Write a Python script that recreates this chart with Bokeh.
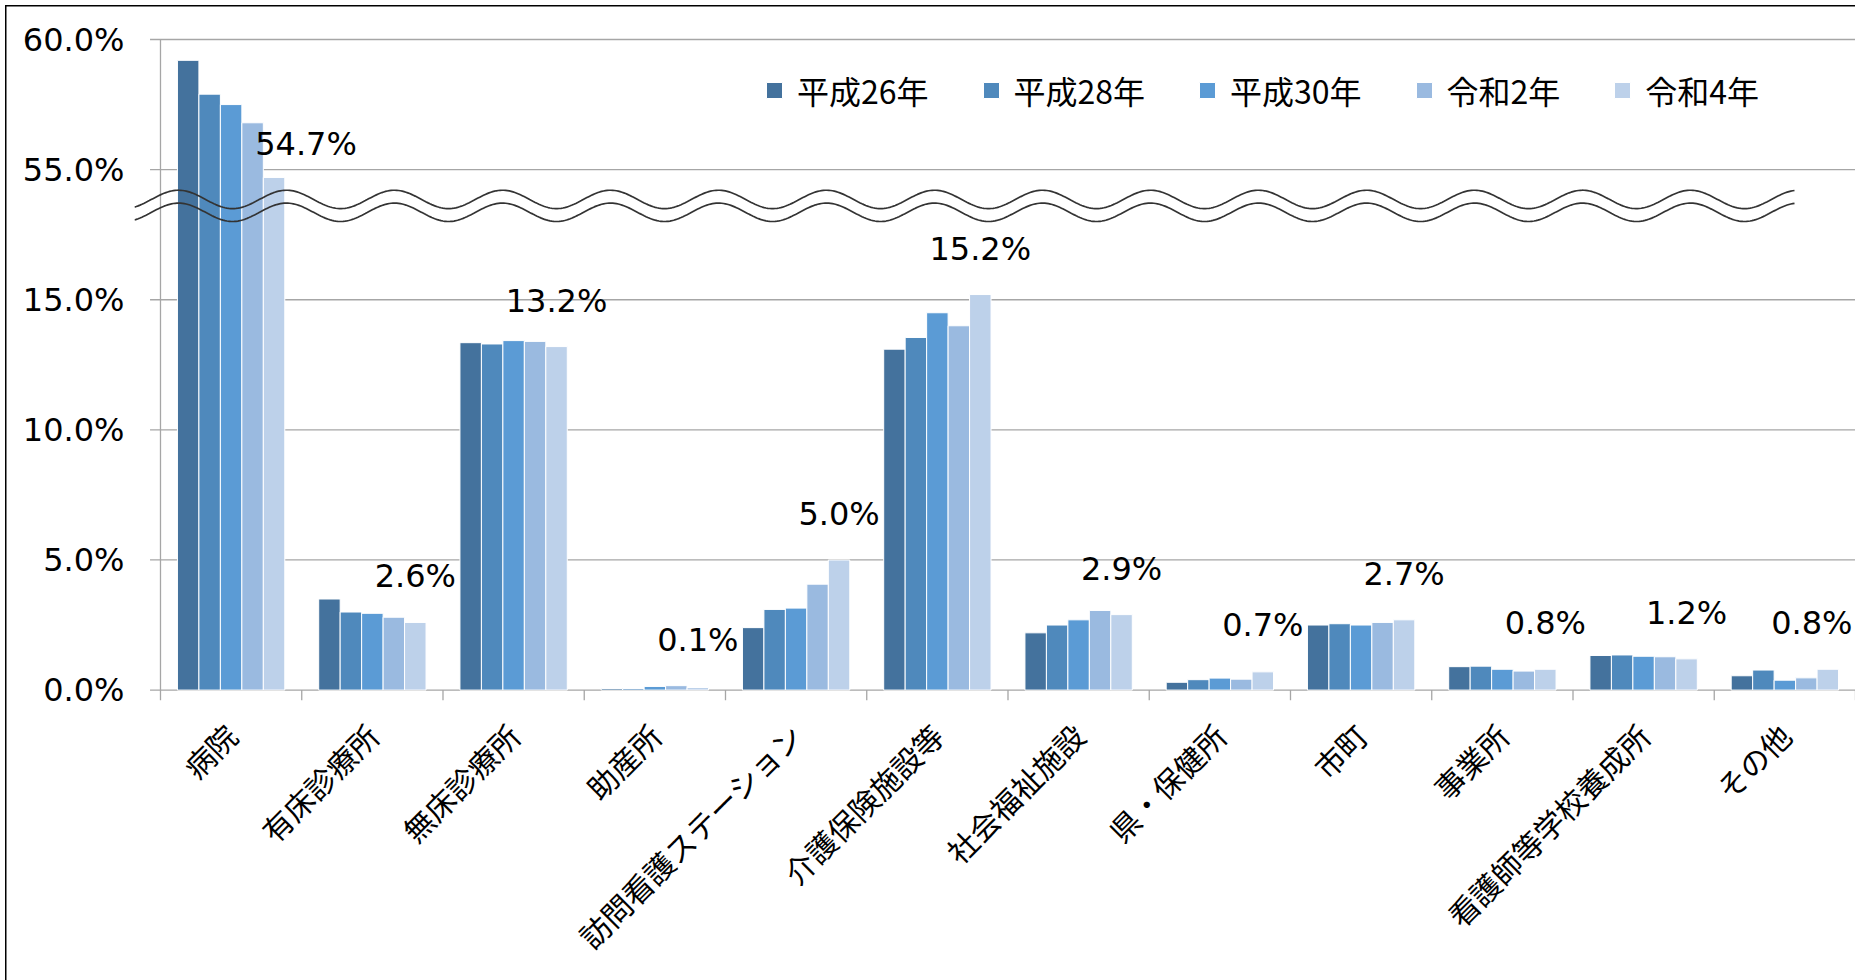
import math
import numpy as np
from bokeh.plotting import figure
from bokeh.models import (ColumnDataSource, FixedTicker, Legend, LegendItem, Range1d)
from bokeh.embed import file_html
from bokeh.resources import INLINE
from bokeh.core.properties import value

# ---------------- data ----------------
categories = ["病院", "有床診療所", "無床診療所", "助産所", "訪問看護ステーション",
              "介護保険施設等", "社会福祉施設", "県・保健所", "市町", "事業所",
              "看護師等学校養成所", "その他"]
series_names = ["平成26年", "平成28年", "平成30年", "令和2年", "令和4年"]
h26 = [59.2, 3.5, 13.35, 0.06, 2.4, 13.1, 2.2, 0.3, 2.5, 0.9, 1.33, 0.55]
h28 = [57.9, 3.0, 13.3, 0.06, 3.1, 13.55, 2.5, 0.4, 2.55, 0.92, 1.35, 0.77]
h30 = [57.5, 2.95, 13.43, 0.14, 3.15, 14.5, 2.7, 0.46, 2.5, 0.8, 1.3, 0.38]
r2 = [56.8, 2.8, 13.4, 0.17, 4.07, 14.0, 3.06, 0.42, 2.6, 0.73, 1.28, 0.47]
r4 = [54.7, 2.6, 13.2, 0.1, 5.0, 15.2, 2.9, 0.7, 2.7, 0.8, 1.2, 0.8]
ytick_values = [0, 5, 10, 15, 55, 60]

# broken axis: values >= 50 are shifted down by 35 (55 -> 20, 60 -> 25)
UPPER_MIN = 50
SHIFT = 35


def to_axis(v):
    return v - SHIFT if v >= UPPER_MIN else v


# ---------------- style ----------------
colors = ["#44729D", "#4F89BC", "#5B9BD5", "#9ABAE0", "#BDD1EA"]
NUM_FONT = "DejaVu Sans"
JP_FONT = "Noto Sans CJK JP"
GRID = "#A6A6A6"
bar_w = 0.152
# per-label screen offsets (px) of the data labels
label_dx = [32, 0, 0, 0, 0, 0, 0, 0, 0, 0, 0, -16]
label_dy = [-33, -46, -46, -47, -46, -46, -46, -47, -46, -46, -46, -46]

p = figure(width=1855, height=980, output_backend="svg", toolbar_location=None,
           x_range=Range1d(-0.184, 12.0), y_range=Range1d(-0.4, 25.5),
           min_border_left=134, min_border_right=0, min_border_top=26,
           min_border_bottom=280, title=None)
p.background_fill_color = "white"
p.border_fill_color = None
p.outline_line_color = None
p.xgrid.visible = False
p.ygrid.visible = False
# outer chart border (left and top edges visible in the window)
p.styles = {
    "background": ("linear-gradient(#000,#000) 5px 5px / 1.5px 100% no-repeat, "
                   "linear-gradient(#000,#000) 5px 5px / 100% 1.5px no-repeat, #fff"),
}

n = len(categories)
ypos = [to_axis(v) for v in ytick_values]

# gridlines (with outward tick stubs to the left of the axis)
p.segment(x0=[-0.074] * len(ypos), x1=[12.0] * len(ypos), y0=ypos, y1=ypos,
          line_color=GRID, line_width=1.3)
# y axis line
p.segment(x0=[0], x1=[0], y0=[-0.4], y1=[25], line_color=GRID, line_width=1.3)
# category boundary ticks
p.segment(x0=list(range(1, n + 1)), x1=list(range(1, n + 1)),
          y0=[0] * n, y1=[-0.4] * n, line_color=GRID, line_width=1.3)

# bars
series = [h26, h28, h30, r2, r4]
renderers = []
for j, (name, vals, col) in enumerate(zip(series_names, series, colors)):
    src = ColumnDataSource(dict(
        x=[i + 0.5 + (j - 2) * bar_w for i in range(n)],
        top=[to_axis(v) for v in vals],
        cat=categories, val=vals))
    r = p.vbar(x="x", top="top", bottom=0, width=bar_w, source=src,
               fill_color=col, line_color="white", line_width=1)
    renderers.append(r)

# wave break marks
xs = np.linspace(-0.184, (1794 - 160) / 141.25, 900)
period = 108 / 141.25
x_crest = (178 - 160) / 141.25
amp = 9.2 / 26.02
wave = np.cos(2 * np.pi * (xs - x_crest) / period) * amp
p.line(xs, 18.855 + wave, line_color="#333333", line_width=1.7)
p.line(xs, 18.36 + wave, line_color="#333333", line_width=1.7)

# data labels (令和4年)
lab = ColumnDataSource(dict(
    x=[i + 0.5 + 2 * bar_w for i in range(n)],
    y=[to_axis(v) for v in r4],
    text=[f"{v:.1f}%" for v in r4],
    dx=label_dx, dy=label_dy))
p.text(x="x", y="y", text="text", x_offset="dx", y_offset="dy", source=lab,
       text_align="center", text_baseline="alphabetic",
       text_font=value(NUM_FONT), text_font_size="32px", text_color="#000000")

# axes
p.yaxis.ticker = FixedTicker(ticks=ypos)
p.yaxis.major_label_overrides = {to_axis(v): f"{v:.1f}%" for v in ytick_values}
p.yaxis.axis_line_color = None
p.yaxis.major_tick_out = 0
p.yaxis.major_tick_in = 0
p.yaxis.minor_tick_out = 0
p.yaxis.minor_tick_in = 0
p.yaxis.major_label_standoff = 10
p.yaxis.major_label_text_font = NUM_FONT
p.yaxis.major_label_text_font_size = "32px"
p.yaxis.major_label_text_color = "#000000"

p.xaxis.ticker = FixedTicker(ticks=[i + 0.5 for i in range(n)])
p.xaxis.major_label_overrides = {i + 0.5: c for i, c in enumerate(categories)}
p.xaxis.major_label_orientation = math.pi / 4
p.xaxis.axis_line_color = None
p.xaxis.major_tick_out = 0
p.xaxis.major_tick_in = 0
p.xaxis.minor_tick_out = 0
p.xaxis.minor_tick_in = 0
p.xaxis.major_label_standoff = 29
p.xaxis.major_label_text_font = JP_FONT
p.xaxis.major_label_text_font_size = "30px"
p.xaxis.major_label_text_color = "#000000"

# legend
legend = Legend(items=[LegendItem(label=nm, renderers=[r])
                       for nm, r in zip(series_names, renderers)],
                orientation="horizontal", location=(630, 587),
                glyph_width=20, glyph_height=20, label_standoff=13, spacing=52,
                padding=0, margin=0, border_line_color=None,
                background_fill_alpha=0,
                label_text_font=JP_FONT, label_text_font_size="32px",
                label_text_color="#000000")
p.add_layout(legend)

open("out.html", "w").write(file_html(p, INLINE))
